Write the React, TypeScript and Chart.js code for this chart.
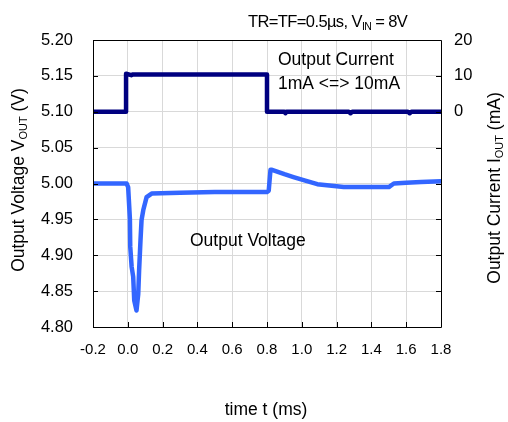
import React, { useEffect, useRef } from "react";
import { Chart, registerables } from "chart.js";

Chart.register(...registerables);

// ---- data ----
const timeCurrent = [-0.2, -0.01, -0.01, 0.02, 0.03, 0.05, 0.8, 0.8, 0.9, 0.906, 0.912, 1.27, 1.28, 1.29, 1.61, 1.62, 1.63, 1.8];
const currentMA = [0, 0, 10.6, 10.2, 10.4, 10.4, 10.4, 0, 0, -0.4, 0, 0, -0.4, 0, 0, -0.4, 0, 0];

const timeVoltage = [-0.2, -0.007, 0.002, 0.012, 0.014, 0.022, 0.031, 0.037, 0.05, 0.06, 0.065, 0.073, 0.079, 0.089, 0.108, 0.137, 0.3, 0.5, 0.8, 0.81, 0.82, 0.829, 0.9, 0.952, 1.02, 1.089, 1.241, 1.472, 1.5, 1.529, 1.6, 1.685, 1.8];
const voltageV = [5.0, 5.0, 4.995, 4.951, 4.912, 4.884, 4.87, 4.837, 4.823, 4.846, 4.879, 4.921, 4.949, 4.963, 4.981, 4.986, 4.987, 4.988, 4.988, 4.99, 5.019, 5.019, 5.013, 5.009, 5.004, 4.999, 4.995, 4.995, 4.995, 5.0, 5.001, 5.002, 5.003];

const xTickMin = -0.2, xTickMax = 1.8, xStep = 0.2;
const vMin = 4.8, vMax = 5.2, vStep = 0.05;
const iMin = -60, iMax = 20, iStep = 10;
const iShownLabels = [20, 10, 0];

const FONT = "'Liberation Sans', Arial, sans-serif";

type Part = { t: string; sub?: boolean };

function drawRich(ctx: CanvasRenderingContext2D, parts: Part[], x: number, y: number, size: number, subSize: number, rotate: boolean, align: "left" | "center", spacing = 0) {
  ctx.save();
  ctx.fillStyle = "#000";
  ctx.textBaseline = "alphabetic";
  ctx.textAlign = "left";
  (ctx as any).letterSpacing = `${spacing}px`;
  const widths = parts.map((p) => {
    ctx.font = `${p.sub ? subSize : size}px ${FONT}`;
    return ctx.measureText(p.t).width;
  });
  const total = widths.reduce((a, b) => a + b, 0);
  ctx.translate(x, y);
  if (rotate) ctx.rotate(-Math.PI / 2);
  let cx = align === "center" ? -total / 2 : 0;
  parts.forEach((p, i) => {
    ctx.font = `${p.sub ? subSize : size}px ${FONT}`;
    ctx.fillText(p.t, cx, p.sub ? 3 : 0);
    cx += widths[i];
  });
  ctx.restore();
}

const decor = {
  id: "decor",
  afterDraw(chart: any) {
    const ctx: CanvasRenderingContext2D = chart.ctx;
    const a = chart.chartArea;
    const sx = chart.scales.x, sy = chart.scales.y, sy1 = chart.scales.y1;
    ctx.save();
    ctx.strokeStyle = "#000";
    ctx.lineWidth = 1;
    ctx.beginPath();
    ctx.rect(Math.round(a.left) + 0.5, Math.round(a.top) + 0.5, Math.round(a.right - a.left), Math.round(a.bottom - a.top));
    ctx.stroke();
    ctx.beginPath();
    for (let v = vMin; v <= vMax + 1e-9; v += vStep) {
      const yy = Math.round(sy.getPixelForValue(v)) + 0.5;
      ctx.moveTo(a.left, yy); ctx.lineTo(a.left + 5, yy);
    }
    for (let v = iMin; v <= iMax; v += iStep) {
      const yy = Math.round(sy1.getPixelForValue(v)) + 0.5;
      ctx.moveTo(a.right - 5, yy); ctx.lineTo(a.right, yy);
    }
    for (let v = xTickMin; v <= xTickMax + 1e-9; v += xStep) {
      const xx = Math.round(sx.getPixelForValue(v)) + 0.5;
      ctx.moveTo(xx, a.bottom - 5); ctx.lineTo(xx, a.bottom);
    }
    ctx.stroke();
    ctx.restore();

    drawRich(ctx, [{ t: "TR=TF=0.5\u00b5s, V" }, { t: "IN", sub: true }, { t: " = 8V" }], 248, 27, 16.5, 10.5, false, "left", -0.6);
    drawRich(ctx, [{ t: "Output Current" }], 278, 65, 17.5, 10, false, "left");
    drawRich(ctx, [{ t: "1mA <=> 10mA" }], 278, 89, 17.5, 10, false, "left");
    drawRich(ctx, [{ t: "Output Voltage" }], 190, 246, 17.5, 10, false, "left");
    drawRich(ctx, [{ t: "time t (ms)" }], 266, 415, 17.5, 10, false, "center");
    drawRich(ctx, [{ t: "Output Voltage V" }, { t: "OUT", sub: true }, { t: " (V)" }], 24, 180, 17.5, 11, true, "center");
    drawRich(ctx, [{ t: "Output Current I" }, { t: "OUT", sub: true }, { t: " (mA)" }], 500, 188, 17.5, 11, true, "center");
  },
};

export default function App() {
  const ref = useRef<HTMLCanvasElement | null>(null);
  useEffect(() => {
    if (!ref.current) return;
    const chart = new Chart(ref.current, {
      type: "line",
      data: {
        datasets: [
          {
            label: "Output Current",
            data: timeCurrent.map((t, i) => ({ x: t, y: currentMA[i] })),
            yAxisID: "y1",
            borderColor: "#000080",
            borderWidth: 4.5,
            borderJoinStyle: "round",
            borderCapStyle: "round",
            pointRadius: 0,
            tension: 0,
          },
          {
            label: "Output Voltage",
            data: timeVoltage.map((t, i) => ({ x: t, y: voltageV[i] })),
            yAxisID: "y",
            borderColor: "#3366FF",
            borderWidth: 4.5,
            borderJoinStyle: "round",
            borderCapStyle: "round",
            pointRadius: 0,
            tension: 0,
          },
        ],
      },
      options: {
        responsive: false,
        animation: false,
        devicePixelRatio: 1,
        layout: { padding: { top: 40, left: 0, right: 0, bottom: 0 } },
        plugins: { legend: { display: false }, tooltip: { enabled: false }, title: { display: false } },
        scales: {
          x: {
            type: "linear",
            min: xTickMin,
            max: xTickMax,
            ticks: {
              stepSize: xStep,
              padding: 14,
              color: "#000",
              font: { family: FONT, size: 15 },
              maxRotation: 0,
              callback: (v: any) => Number(v).toFixed(1),
            },
            grid: { color: "#d9d9d9", drawTicks: false, lineWidth: 1 },
            border: { display: false },
            afterFit: (s: any) => { s.height = 95; },
          },
          y: {
            position: "left",
            min: vMin,
            max: vMax,
            ticks: {
              stepSize: vStep,
              padding: 20,
              color: "#000",
              font: { family: FONT, size: 16.5 },
              callback: (v: any) => Number(v).toFixed(2),
            },
            grid: { color: "#d9d9d9", drawTicks: false, lineWidth: 1 },
            border: { display: false },
            afterFit: (s: any) => { s.width = 93; },
          },
          y1: {
            position: "right",
            min: iMin,
            max: iMax,
            ticks: {
              stepSize: iStep,
              padding: 13,
              color: "#000",
              font: { family: FONT, size: 16.5 },
              callback: (v: any) => (iShownLabels.includes(Number(v)) ? String(v) : ""),
            },
            grid: { display: false, drawTicks: false },
            border: { display: false },
            afterFit: (s: any) => { s.width = 67; },
          },
        },
      },
      plugins: [decor],
    });
    return () => chart.destroy();
  }, []);
  return (
    <div style={{ position: "fixed", left: 0, top: 0, width: 508, height: 422, background: "#fff" }}>
      <canvas ref={ref} width={508} height={422} />
    </div>
  );
}
